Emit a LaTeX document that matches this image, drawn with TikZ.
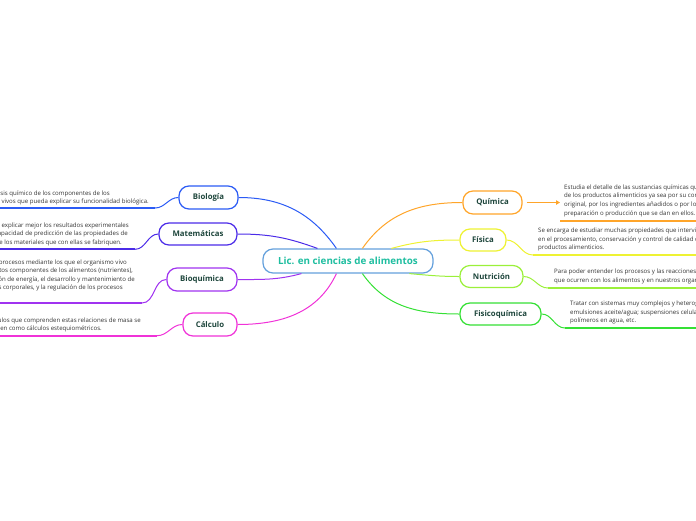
\documentclass[tikz,border=0pt]{standalone}
\usepackage{fontspec}
\setmainfont{Open Sans}
\usetikzlibrary{arrows.meta}
\definecolor{cbio}{RGB}{43,91,245}
\definecolor{cmat}{RGB}{75,43,232}
\definecolor{cbioq}{RGB}{160,51,240}
\definecolor{ccal}{RGB}{240,50,216}
\definecolor{cqui}{RGB}{255,165,42}
\definecolor{cfis}{RGB}{238,242,50}
\definecolor{cnut}{RGB}{155,240,58}
\definecolor{cfisq}{RGB}{53,224,53}
\definecolor{ccen}{RGB}{100,160,220}
\definecolor{centxt}{RGB}{30,190,160}
\definecolor{nodetxt}{RGB}{30,70,60}
\definecolor{dettxt}{RGB}{51,51,51}
\begin{document}
\begin{tikzpicture}[x=1pt,y=-1pt,
  br/.style={draw, line width=1.2pt, rounded corners=10pt, fill=white, text=nodetxt,
    font=\fontsize{7.8}{9}\selectfont\bfseries, inner sep=0pt},
  dt/.style={text=dettxt, font=\fontsize{6.1}{7}\selectfont, inner sep=0pt},
  conn/.style={line width=1pt},
  ul/.style={line width=2pt}]
\useasboundingbox (0,0) rectangle (696,520);
\clip (0,0) rectangle (696,520);

% central node
\node[draw=ccen, line width=1.2pt, rounded corners=10pt, fill=white, text=centxt,
  font=\fontsize{9.8}{11}\selectfont\bfseries, minimum width=170pt, minimum height=24pt, inner sep=0pt]
  (cen) at (348,261) {Lic. en ciencias de alimentos};

% branch nodes
\node[br, draw=cbio, minimum width=59pt, minimum height=23pt] (bio) at (208.5,197.5) {Biología};
\node[br, draw=cmat, minimum width=78pt, minimum height=22pt] (mat) at (198,234) {Matemáticas};
\node[br, draw=cbioq, minimum width=70pt, minimum height=23pt] (bioq) at (202,279.5) {Bioquímica};
\node[br, draw=ccal, minimum width=54pt, minimum height=23pt] (cal) at (210,324.5) {Cálculo};
\node[br, draw=cqui, minimum width=59pt, minimum height=23pt] (qui) at (492.5,202.5) {Química};
\node[br, draw=cfis, minimum width=46pt, minimum height=22pt] (fis) at (483,240) {Física};
\node[br, draw=cnut, minimum width=63pt, minimum height=22pt] (nut) at (491.5,276.5) {Nutrición};
\node[br, draw=cfisq, minimum width=81pt, minimum height=22pt] (fisq) at (500.5,314) {Fisicoquímica};

% connectors to central node
\draw[conn, cbio] (bio.east) to[out=0,in=125] ([xshift=74pt]cen.north west);
\draw[conn, cmat] (mat.east) to[out=0,in=160] ([xshift=55pt]cen.north west);
\draw[conn, cbioq] (bioq.east) to[out=0,in=195] ([xshift=39pt]cen.south west);
\draw[conn, ccal] (cal.east) to[out=0,in=245] ([xshift=74pt]cen.south west);
\draw[conn, cqui] (qui.west) to[out=180,in=55] ([xshift=100pt]cen.north west);
\draw[conn, cfis] (fis.west) to[out=180,in=15] ([xshift=129pt]cen.north west);
\draw[conn, cnut] (nut.west) to[out=180,in=355] ([xshift=147pt]cen.south west);
\draw[conn, cfisq] (fisq.west) to[out=180,in=305] ([xshift=100pt]cen.south west);

% detail coordinates
\coordinate (bioU) at (155,208);   \coordinate (bioE) at (0,208);
\coordinate (matU) at (135,249.3); \coordinate (matE) at (0,249.3);
\coordinate (bioqU) at (142,303);  \coordinate (bioqE) at (0,303);
\coordinate (calU) at (157,335.7); \coordinate (calE) at (0,335.7);
\coordinate (quiA) at (560,202.5);
\coordinate (quiU) at (560,220.7); \coordinate (quiE) at (696,220.7);
\coordinate (fisU) at (533,255);   \coordinate (fisE) at (696,255);
\coordinate (nutU) at (548,288);   \coordinate (nutE) at (696,288);
\coordinate (fisqU) at (565,328);  \coordinate (fisqE) at (696,328);

% detail connectors
\draw[conn, cbio] (bio.west) to[out=180,in=0] (bioU);
\draw[ul, cbio] (bioU) -- (bioE);
\draw[conn, cmat] (mat.west) to[out=180,in=0] (matU);
\draw[ul, cmat] (matU) -- (matE);
\draw[conn, cbioq] (bioq.west) to[out=180,in=0] (bioqU);
\draw[ul, cbioq] (bioqU) -- (bioqE);
\draw[conn, ccal] (cal.west) to[out=180,in=0] (calU);
\draw[ul, ccal] (calU) -- (calE);
\draw[conn, cqui, shorten <=4pt, -{Triangle[length=4pt,width=4.5pt]}] (qui.east) -- (quiA);
\draw[ul, cqui] (quiU) -- (quiE);
\draw[conn, cfis] (fis.east) to[out=0,in=180] (fisU);
\draw[ul, cfis] (fisU) -- (fisE);
\draw[conn, cnut] (nut.east) to[out=0,in=180] (nutU);
\draw[ul, cnut] (nutU) -- (nutE);
\draw[conn, cfisq] (fisq.east) to[out=0,in=180] (fisqU);
\draw[ul, cfisq] (fisqU) -- (fisqE);

% left texts
\node[dt, anchor=base east] (bioT1) at (110,195) {Se encarga del análisis químico de los componentes de los};
\node[dt, anchor=base east] (bioT2) at (149,203) {seres vivos que pueda explicar su funcionalidad biológica.};

\node[dt, anchor=base east] (matT1) at (129,227) {La matemática permitirá explicar mejor los resultados experimentales};
\node[dt, anchor=base east] (matT2) at (128,235.5) {y aumentar la capacidad de predicción de las propiedades de};
\node[dt, anchor=base east] (matT3) at (122,244) {los alimentos y de los materiales que con ellas se fabriquen.};

\node[dt, anchor=base east] (bioqT1) at (127,264.3) {Estudia los procesos mediante los que el organismo vivo};
\node[dt, anchor=base east] (bioqT2) at (133,272.7) {utiliza los elementos componentes de los alimentos (nutrientes),};
\node[dt, anchor=base east] (bioqT3) at (135,281) {para la obtención de energía, el desarrollo y mantenimiento de};
\node[dt, anchor=base east] (bioqT4) at (123,289.3) {las estructuras corporales, y la regulación de los procesos};

\node[dt, anchor=base east] (calT1) at (141,322) {Los cálculos que comprenden estas relaciones de masa se};
\node[dt, anchor=base east] (calT2) at (102,330) {conocen como cálculos estequiométricos.};

% right texts
\node[dt, anchor=base west] (quiT1) at (564,189) {Estudia el detalle de las sustancias químicas que forman parte};
\node[dt, anchor=base west] (quiT2) at (564,197.7) {de los productos alimenticios ya sea por su composición};
\node[dt, anchor=base west] (quiT3) at (564,206.3) {original, por los ingredientes añadidos o por los procesos de};
\node[dt, anchor=base west] (quiT4) at (564,215) {preparación o producción que se dan en ellos.};

\node[dt, anchor=base west] (fisT1) at (538,232) {Se encarga de estudiar muchas propiedades que intervienen};
\node[dt, anchor=base west] (fisT2) at (538,241) {en el procesamiento, conservación y control de calidad de los};
\node[dt, anchor=base west] (fisT3) at (538,249.7) {productos alimenticios.};

\node[dt, anchor=base west] (nutT1) at (554,273.7) {Para poder entender los procesos y las reacciones químicas};
\node[dt, anchor=base west] (nutT2) at (554,282) {que ocurren con los alimentos y en nuestros organismos.};

\node[dt, anchor=base west] (fisqT1) at (570,305) {Tratar con sistemas muy complejos y heterogéneos como};
\node[dt, anchor=base west] (fisqT2) at (570,314.5) {emulsiones aceite/agua; suspensiones celulares; soluciones de};
\node[dt, anchor=base west] (fisqT3) at (570,322.7) {polímeros en agua, etc.};
\end{tikzpicture}
\end{document}
